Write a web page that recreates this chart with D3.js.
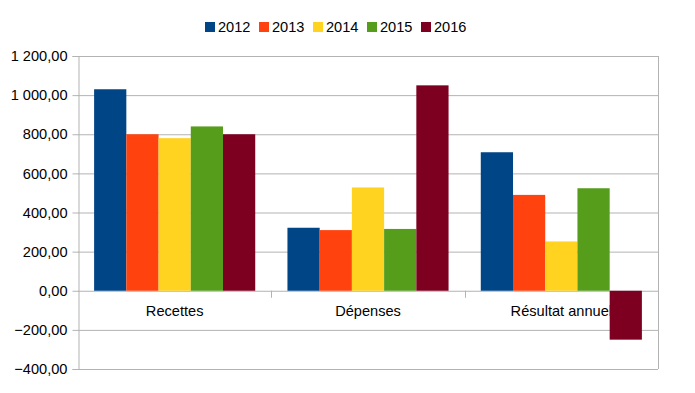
<!DOCTYPE html>
<html>
<head>
<meta charset="utf-8">
<script src="https://cdn.jsdelivr.net/npm/d3@7"></script>
<style>
  body { margin: 0; background: #fff; }
  text { font-family: "Liberation Sans", Arial, sans-serif; fill: #000; }
</style>
</head>
<body>
<div id="chart"></div>
<script>
const categories = ['Recettes', 'Dépenses', 'Résultat annuel'];
const years = ['2012', '2013', '2014', '2015', '2016'];
const values2012 = [1030, 322, 708];
const values2013 = [800, 310, 490];
const values2014 = [780, 528, 252];
const values2015 = [840, 316, 524];
const values2016 = [800, 1050, -250];
const yTicks = [-400, -200, 0, 200, 400, 600, 800, 1000, 1200];

const colors = ['#004586', '#ff420e', '#ffd320', '#579d1c', '#7e0021'];
const seriesValues = [values2012, values2013, values2014, values2015, values2016];

const width = 695, height = 393;
const margin = {top: 56, right: 37, bottom: 24, left: 78};
const grid = '#b3b3b3';
const fontSize = '14.6px';

const svg = d3.select('#chart').append('svg')
  .attr('width', width)
  .attr('height', height);

const x0 = d3.scaleBand()
  .domain(categories)
  .range([margin.left, width - margin.right]);

const x1 = d3.scaleBand()
  .domain(years)
  .range([0, x0.bandwidth()])
  .paddingOuter(0.5);

const y = d3.scaleLinear()
  .domain([-400, 1200])
  .range([height - margin.bottom, margin.top]);

const color = d3.scaleOrdinal().domain(years).range(colors);

const fr = d3.formatLocale({decimal: ',', thousands: ' ', grouping: [3], currency: ['', '€']});
const fmt = fr.format(',.2f');

// gridlines
svg.append('g')
  .selectAll('line')
  .data(yTicks)
  .enter()
  .append('line')
  .attr('x1', margin.left)
  .attr('x2', width - margin.right)
  .attr('y1', d => y(d) + 0.5)
  .attr('y2', d => y(d) + 0.5)
  .style('stroke', grid);

// right border
svg.append('line')
  .attr('x1', width - margin.right + 0.5)
  .attr('x2', width - margin.right + 0.5)
  .attr('y1', y(1200))
  .attr('y2', y(-400))
  .style('stroke', grid);

// category ticks on the zero line
svg.append('g')
  .selectAll('line')
  .data(categories.slice(1))
  .enter()
  .append('line')
  .attr('x1', d => Math.round(x0(d)) + 0.5)
  .attr('x2', d => Math.round(x0(d)) + 0.5)
  .attr('y1', y(0))
  .attr('y2', y(0) + 7)
  .style('stroke', grid);

// category labels
svg.append('g')
  .selectAll('text')
  .data(categories)
  .enter()
  .append('text')
  .attr('x', d => x0(d) + x0.bandwidth() / 2)
  .attr('y', y(0) + 25)
  .attr('text-anchor', 'middle')
  .style('font-size', fontSize)
  .text(d => d);

// bars
const rows = categories.map((c, i) => ({
  category: c,
  values: years.map((yr, j) => ({year: yr, value: seriesValues[j][i]}))
}));

svg.append('g')
  .selectAll('g')
  .data(rows)
  .enter()
  .append('g')
  .attr('transform', d => 'translate(' + x0(d.category) + ',0)')
  .selectAll('rect')
  .data(d => d.values)
  .enter()
  .append('rect')
  .attr('x', d => x1(d.year))
  .attr('width', x1.bandwidth())
  .attr('y', d => y(Math.max(0, d.value)))
  .attr('height', d => Math.abs(y(d.value) - y(0)))
  .style('fill', d => color(d.year));

// y axis
const yAxis = svg.append('g')
  .attr('transform', 'translate(' + (margin.left + 0.5) + ',0)')
  .call(d3.axisLeft(y).tickValues(yTicks).tickSize(6).tickPadding(5).tickFormat(fmt));

yAxis.selectAll('.domain').style('stroke', grid);
yAxis.selectAll('.tick line').style('stroke', grid);
yAxis.selectAll('.tick text')
  .style('font-size', fontSize)
  .style('font-family', '"Liberation Sans", Arial, sans-serif')
  .style('fill', '#000');

// legend
const legend = svg.append('g')
  .attr('transform', 'translate(205,22)')
  .selectAll('g')
  .data(years)
  .enter()
  .append('g')
  .attr('transform', (d, i) => 'translate(' + (i * 54) + ',0)');

legend.append('rect')
  .attr('width', 10)
  .attr('height', 10)
  .style('fill', d => color(d));

legend.append('text')
  .attr('x', 13)
  .attr('y', 10)
  .style('font-size', fontSize)
  .text(d => d);
</script>
</body>
</html>
